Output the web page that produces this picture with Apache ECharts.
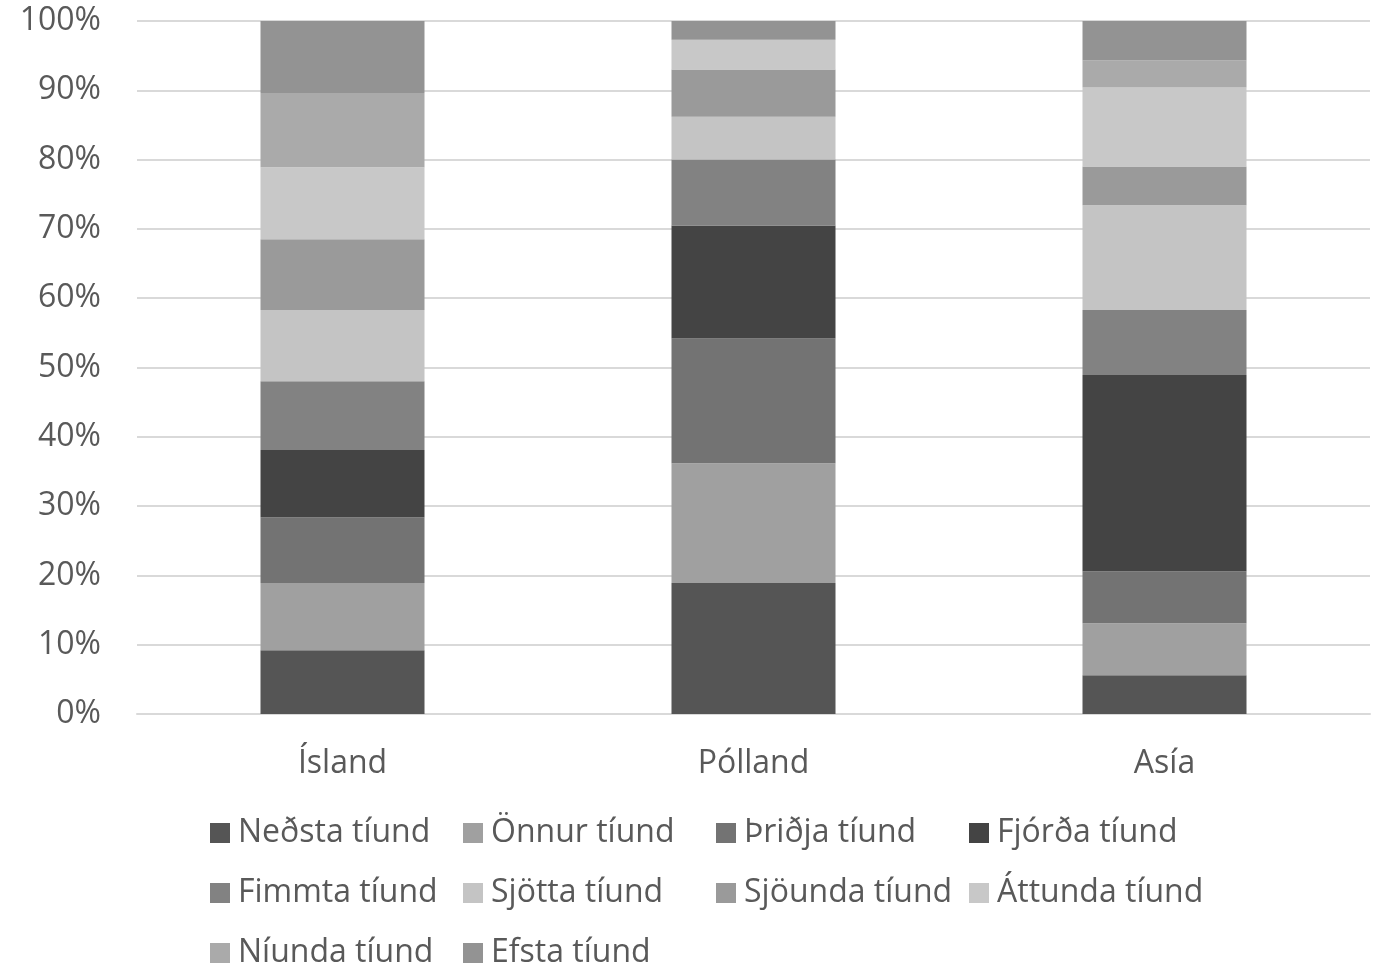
<!DOCTYPE html>
<html>
<head>
<meta charset="utf-8">
<script src="https://cdn.jsdelivr.net/npm/echarts@6/dist/echarts.min.js"></script>
<style>
html,body{margin:0;padding:0;background:#fff;}
#chart{width:1379px;height:970px;}
</style>
</head>
<body>
<div id="chart"></div>
<script>
const categories = ['Ísland', 'Pólland', 'Asía'];
const seriesNames = ['Neðsta tíund', 'Önnur tíund', 'Þriðja tíund', 'Fjórða tíund', 'Fimmta tíund', 'Sjötta tíund', 'Sjöunda tíund', 'Áttunda tíund', 'Níunda tíund', 'Efsta tíund'];
const nedsta  = [9.2, 18.9, 5.6];
const onnur   = [9.7, 17.3, 7.5];
const thridja = [9.5, 18.0, 7.5];
const fjorda  = [9.7, 16.3, 28.3];
const fimmta  = [9.9, 9.5, 9.4];
const sjotta  = [10.3, 6.2, 15.1];
const sjounda = [10.2, 6.8, 5.6];
const attunda = [10.4, 4.3, 11.4];
const niunda  = [10.7, 0.0, 3.9];
const efsta   = [10.4, 2.7, 5.7];
const yTicks = [0, 10, 20, 30, 40, 50, 60, 70, 80, 90, 100];

const seriesValues = [nedsta, onnur, thridja, fjorda, fimmta, sjotta, sjounda, attunda, niunda, efsta];
const colors = ['#555555', '#a0a0a0', '#737373', '#444444', '#828282', '#c4c4c4', '#9a9a9a', '#c8c8c8', '#aaaaaa', '#939393'];

const FONT = 'Open Sans';
const FS = 32;
const TXT = '#595959';

const legendPos = [
  [210, 817], [463, 817], [716, 817], [969, 817],
  [210, 877], [463, 877], [716, 877], [969, 877],
  [210, 937], [463, 937]
];

const chart = echarts.init(document.getElementById('chart'), null, {renderer: 'canvas'});
chart.setOption({
  animation: false,
  color: colors,
  grid: {left: 137, right: 9, top: 21, bottom: 256, containLabel: false},
  legend: seriesNames.map((n, i) => ({
    data: [n],
    left: legendPos[i][0],
    top: legendPos[i][1],
    icon: 'rect',
    itemWidth: 20,
    itemHeight: 20,
    itemGap: 0,
    padding: 0,
    textStyle: {fontFamily: FONT, fontSize: FS, color: TXT, padding: [0, 0, 0, 3]}
  })),
  xAxis: {
    type: 'category',
    data: categories,
    axisLine: {lineStyle: {color: '#d9d9d9', width: 2}},
    axisTick: {show: false},
    axisLabel: {fontFamily: FONT, fontSize: FS, color: TXT, margin: 34}
  },
  yAxis: {
    type: 'value',
    min: 0,
    max: 100,
    interval: 10,
    axisLine: {show: false},
    axisTick: {show: false},
    splitLine: {lineStyle: {color: '#d9d9d9', width: 2}},
    axisLabel: {fontFamily: FONT, fontSize: FS, color: TXT, margin: 36,
      formatter: v => yTicks.includes(v) ? v + '%' : ''}
  },
  series: seriesNames.map((n, i) => ({
    name: n,
    type: 'bar',
    stack: 'total',
    barWidth: 164,
    data: seriesValues[i],
    itemStyle: {color: colors[i]}
  }))
});
</script>
</body>
</html>
